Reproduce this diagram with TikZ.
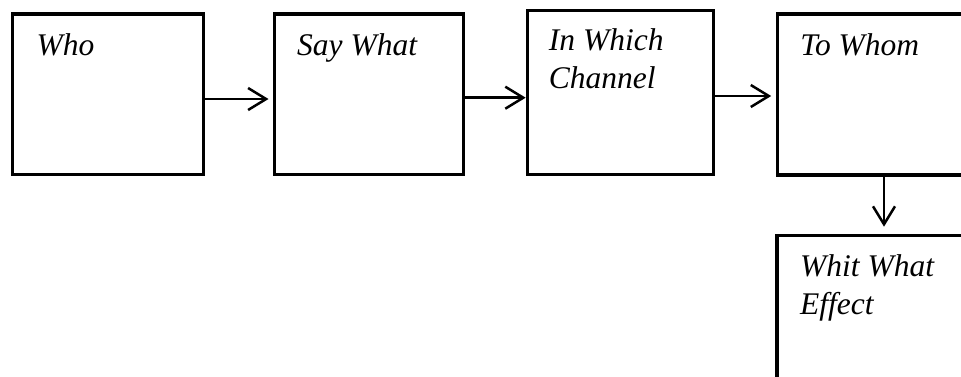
\documentclass[tikz,border=0pt]{standalone}
\usepackage{fontspec}
\setmainfont{Liberation Serif}
\usetikzlibrary{arrows.meta}
\tikzset{
  box/.style={draw, line width=3.3pt, outer sep=0pt, inner sep=0pt, rectangle},
  lbl/.style={font=\fontsize{31.5}{37.5}\selectfont\itshape, inner sep=0pt, align=left, anchor=base west},
  arr/.style={line width=2.5pt, -{Straight Barb[length=18pt,width=22pt]}}
}
\begin{document}
\begin{tikzpicture}
\clip (0pt,0pt) rectangle (961pt,-376pt);
\fill[white] (0pt,0pt) rectangle (961pt,-376pt);
% boxes (centre, size)
\node[box, minimum width=191pt, minimum height=160.5pt] (b1) at (108pt,-94.25pt) {};
\node[box, minimum width=189.2pt, minimum height=160.5pt] (b2) at (369.1pt,-94.25pt) {};
\node[box, minimum width=185.5pt, minimum height=164.2pt] (b3) at (620.45pt,-92.4pt) {};
\node[box, minimum width=200pt, minimum height=161pt] (b4) at (877.2pt,-94.5pt) {};
\node[box, minimum width=200pt, minimum height=180pt] (b5) at (877pt,-325.7pt) {};
% labels
\node[lbl] (t1) at ([xshift=24pt,yshift=-41pt]b1.north west) {Who};
\node[lbl] (t2) at ([xshift=22.5pt,yshift=-41pt]b2.north west) {Say What};
\node[lbl] (t3) at ([xshift=21pt,yshift=-78pt]b3.north west) {In Which\\Channel};
\node[lbl] (t4) at ([xshift=23pt,yshift=-41pt]b4.north west) {To Whom};
\node[lbl] (t5) at ([xshift=23pt,yshift=-78.3pt]b5.north west) {Whit What\\Effect};
% connectors
\draw[arr, shorten >=6pt] ([yshift=-4.75pt]b1.east) -- ([yshift=-4.75pt]b2.west);
\draw[arr, shorten >=2pt] ([yshift=-3.45pt]b2.east) -- ([yshift=-5.3pt]b3.west);
\draw[arr, shorten >=6pt] ([yshift=-3.6pt]b3.east) -- ([yshift=-1.5pt]b4.west);
\draw[arr, shorten >=9pt] ([xshift=6.8pt]b4.south) -- ([xshift=7pt]b5.north);
\end{tikzpicture}
\end{document}
